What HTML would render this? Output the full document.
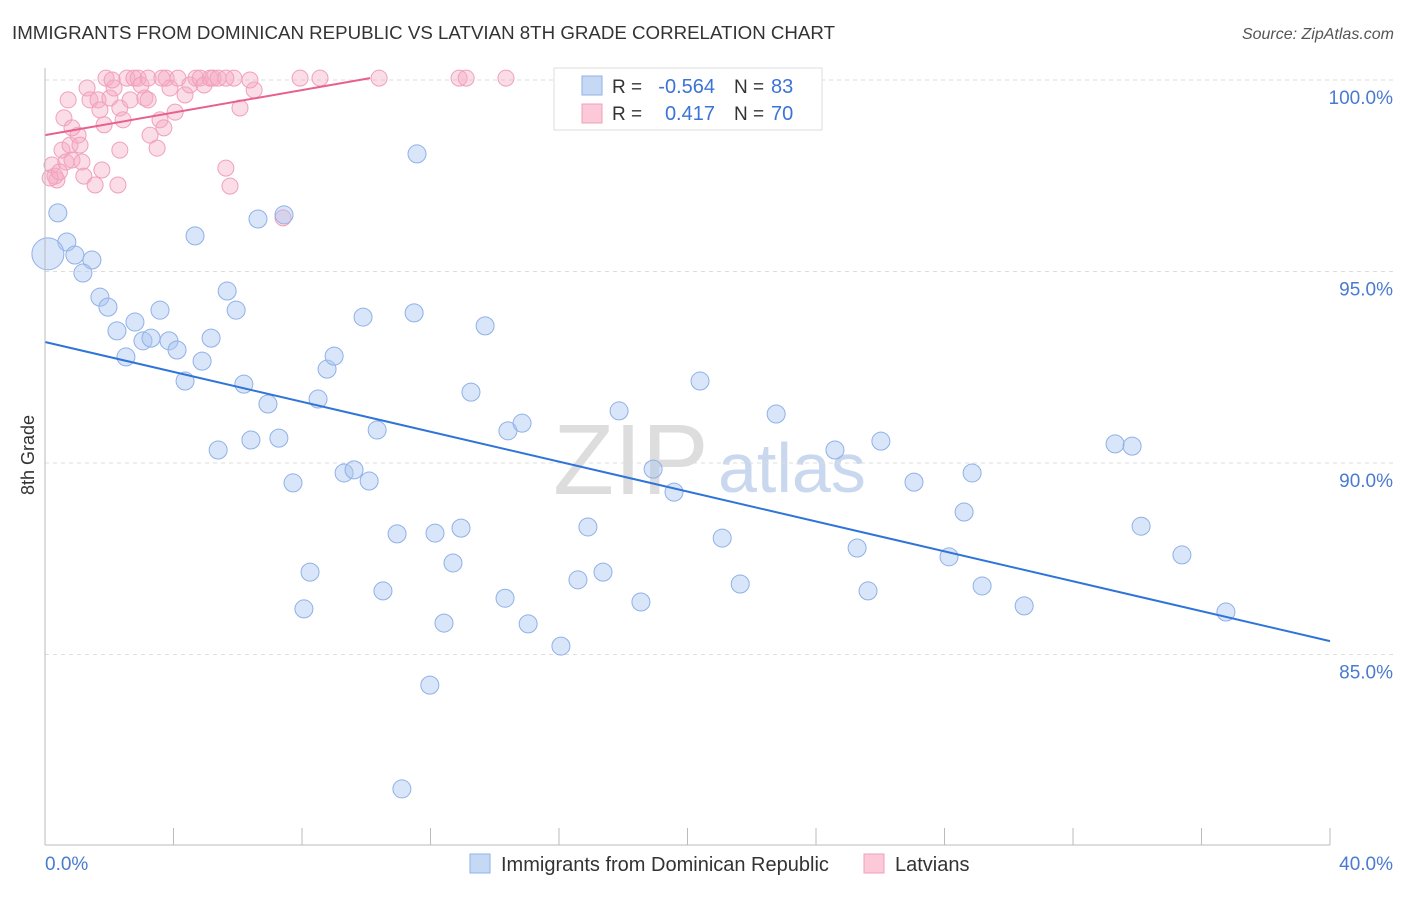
<!DOCTYPE html>
<html><head><meta charset="utf-8"><style>
body{margin:0;background:#fff;font-family:"Liberation Sans",sans-serif}
svg text{font-family:"Liberation Sans",sans-serif}
</style></head><body>
<svg id="chart" width="1406" height="892" xmlns="http://www.w3.org/2000/svg">
<text x="12" y="39" font-size="18" fill="#333" textLength="823" lengthAdjust="spacingAndGlyphs">IMMIGRANTS FROM DOMINICAN REPUBLIC VS LATVIAN 8TH GRADE CORRELATION CHART</text>
<text x="1394" y="39" font-size="16" fill="#555" text-anchor="end" font-style="italic">Source: ZipAtlas.com</text>
<text x="553" y="494" font-size="100" fill="#ddd" font-family="Liberation Serif">ZIP</text>
<text x="718" y="492" font-size="70" fill="#c9d8ee">atlas</text>
<text transform="translate(34,455) rotate(-90)" font-size="18" fill="#333" text-anchor="middle">8th Grade</text>
<g id="grid"></g><g id="ticks"></g><g id="pink"></g><g id="blue"></g><g id="lines"></g>
<line x1="45" y1="68" x2="45" y2="845" stroke="#bbb"/>
<line x1="45" y1="845" x2="1330" y2="845" stroke="#bbb"/>
<text x="45" y="870" font-size="19" fill="#4a7bd0">0.0%</text>
<text x="1393" y="870" font-size="19" fill="#4a7bd0" text-anchor="end">40.0%</text>
<g>
<rect x="554" y="68" width="268" height="62" fill="#fff" stroke="#ddd"/>
<rect x="582" y="76" width="20" height="19" fill="#c5d9f5" stroke="#8fb1e8"/>
<rect x="582" y="104" width="20" height="19" fill="#fbc9d8" stroke="#f1a0bb"/>
<text x="612" y="93" font-size="19" fill="#333">R =</text>
<text x="715" y="93" font-size="20" fill="#3b73d6" text-anchor="end">-0.564</text>
<text x="734" y="93" font-size="19" fill="#333">N =</text>
<text x="771" y="93" font-size="20" fill="#3b73d6">83</text>
<text x="612" y="120" font-size="19" fill="#333">R =</text>
<text x="715" y="120" font-size="20" fill="#3b73d6" text-anchor="end">0.417</text>
<text x="734" y="120" font-size="19" fill="#333">N =</text>
<text x="771" y="120" font-size="20" fill="#3b73d6">70</text>
</g>
<g>
<rect x="470" y="854" width="20" height="19" fill="#c5d9f5" stroke="#8fb1e8"/>
<text x="501" y="871" font-size="20" fill="#333">Immigrants from Dominican Republic</text>
<rect x="864" y="854" width="20" height="19" fill="#fbc9d8" stroke="#f1a0bb"/>
<text x="895" y="871" font-size="20" fill="#333">Latvians</text>
</g>
</svg>
<script>
const yTicks=[100,95,90,85];
const yTickLabels=["100.0%","95.0%","90.0%","85.0%"];
const xTicks=[0,4,8,12,16,20,24,28,32,36,40];
const blueX=[0.40,0.68,0.93,1.46,1.18,1.71,1.96,2.24,2.52,2.80,3.05,3.30,3.58,3.86,4.11,4.36,4.67,4.89,5.17,5.39,5.67,5.95,6.19,6.41,6.63,6.94,7.28,7.44,7.72,8.06,8.25,8.50,8.78,9.00,9.31,9.62,9.90,10.09,10.34,10.52,10.96,11.11,11.49,11.58,11.98,12.14,12.42,12.70,12.95,13.26,13.70,14.32,14.41,14.85,15.04,16.06,16.59,16.90,17.37,17.87,18.55,18.93,19.58,20.39,21.08,21.64,22.76,24.59,25.28,25.62,26.02,27.05,28.14,28.61,28.86,29.17,30.48,33.31,33.84,34.12,35.39,36.76,0.09];
const blueY=[96.53,95.77,95.43,95.30,94.96,94.33,94.07,93.45,92.77,93.68,93.19,93.26,93.99,93.19,92.95,92.14,95.93,92.66,93.26,90.34,94.49,93.99,92.06,90.60,96.37,91.54,90.65,96.48,89.48,86.19,87.15,91.67,92.45,92.79,89.74,89.82,93.81,89.53,90.86,86.66,88.15,81.49,93.92,98.07,84.20,88.17,85.82,87.39,88.30,91.85,93.58,86.47,90.84,91.04,85.80,85.22,86.95,88.33,87.15,91.36,86.37,89.84,89.24,92.14,88.04,86.84,91.28,90.34,87.78,86.66,90.57,89.50,87.55,88.72,89.74,86.79,86.27,90.50,90.44,88.35,87.60,86.11,95.46];
const pinkX=[0.37,0.22,0.31,0.53,0.65,0.78,0.84,1.03,1.15,1.21,1.31,1.40,1.56,1.65,1.71,1.84,1.90,2.02,2.15,2.27,2.33,2.43,2.55,2.65,2.77,2.90,2.99,3.11,3.21,3.27,3.49,3.58,3.70,3.77,3.89,4.05,4.14,4.36,4.51,4.70,4.83,4.95,5.14,5.23,5.39,5.63,5.76,5.88,6.07,6.51,7.41,7.94,8.56,10.40,12.89,13.11,14.35,0.59,0.84,1.09,0.16,0.72,1.77,2.09,2.33,3.21,3.64,5.63,6.38,0.45];
const pinkY=[97.39,97.78,97.49,98.17,97.86,98.30,97.91,98.56,97.86,97.49,99.79,99.48,97.26,99.48,99.22,98.83,100.05,99.53,99.79,97.26,99.27,98.96,100.05,99.48,100.05,100.05,99.87,99.53,100.05,98.56,98.22,98.96,98.75,100.05,99.79,99.16,100.05,99.61,99.87,100.05,100.05,99.87,100.05,100.05,100.05,97.70,97.23,100.05,99.27,99.74,96.40,100.05,100.05,100.05,100.05,100.05,100.05,99.01,98.75,98.30,97.44,99.48,97.65,100.00,98.17,99.48,100.05,100.05,100.00,97.60];
const blueTrend=[[0,93.16],[40,85.35]];
const pinkTrend=[[0,98.56],[10.12,100.05]];
const NS="http://www.w3.org/2000/svg";
const sx=v=>45+v*32.125, sy=v=>80+(100-v)*38.3;
function mk(t,a,p){const e=document.createElementNS(NS,t);for(const k in a)e.setAttribute(k,a[k]);document.getElementById(p).appendChild(e);return e;}
yTicks.forEach((v,i)=>{
 const g=mk('line',{x1:45,x2:1394,y1:sy(v),y2:sy(v),stroke:'#ddd','stroke-dasharray':'4,4'},'grid');
 
 
 const t=mk('text',{x:1393,y:sy(v)+24,'font-size':19,fill:'#4a7bd0','text-anchor':'end'},'grid');
 t.textContent=yTickLabels[i];
 
 
});
xTicks.forEach(v=>{
 const l=mk('line',{x1:sx(v),x2:sx(v),y1:828,y2:845,stroke:'#bbb'},'ticks');
 
 
});
pinkX.forEach((x,i)=>{
 const c=mk('circle',{cx:sx(x),cy:sy(pinkY[i]),r:8,fill:'rgba(246,170,196,0.4)',stroke:'#f0a0bb','stroke-width':1},'pink');
 
 
});
blueX.forEach((x,i)=>{
 const big=i===blueX.length-1;
 const c=mk('circle',{cx:sx(x),cy:sy(blueY[i]),r:big?16:9,fill:'rgba(170,198,240,0.45)',stroke:'#8fb1e8','stroke-width':1},'blue');
 
 
});
const bl=mk('line',{x1:sx(blueTrend[0][0]),y1:sy(blueTrend[0][1]),x2:sx(blueTrend[1][0]),y2:sy(blueTrend[1][1]),stroke:'#2f74d8','stroke-width':2},'lines');


const pl=mk('line',{x1:sx(pinkTrend[0][0]),y1:sy(pinkTrend[0][1]),x2:sx(pinkTrend[1][0]),y2:sy(pinkTrend[1][1]),stroke:'#e8608c','stroke-width':2},'lines');


</script>
</body></html>
